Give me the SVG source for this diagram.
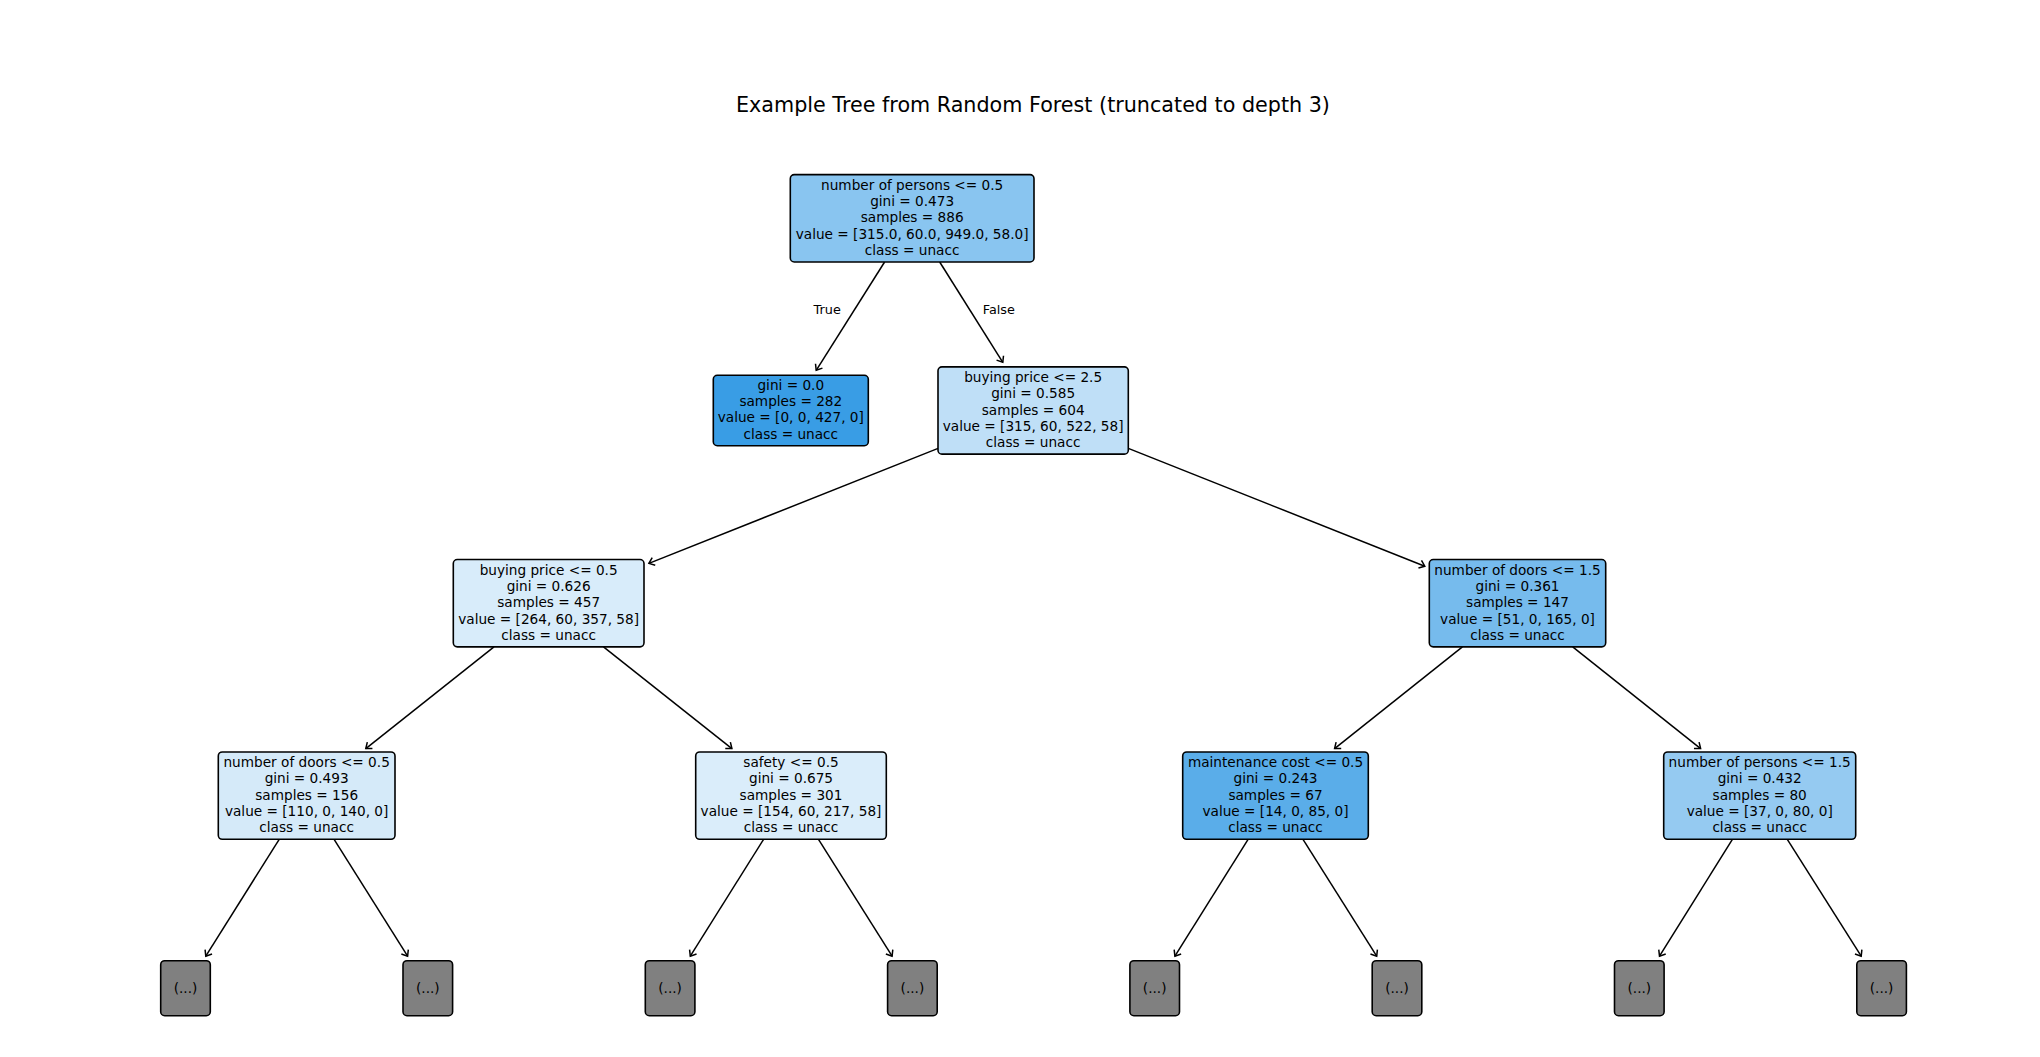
<svg xmlns="http://www.w3.org/2000/svg" width="2040" height="1057" viewBox="0 0 2040 1057">
<style>
text{font-family:"DejaVu Sans","Liberation Sans",sans-serif;fill:#000}
.t{font-size:13.65px;text-anchor:middle}
.lbl{font-size:12.8px;text-anchor:middle}
.title{font-size:20.7px;text-anchor:middle}
.box{stroke:#000;stroke-width:1.6}
.edge{stroke:#000;stroke-width:1.5;fill:none}
</style>
<defs>
<marker id="ah" viewBox="-9 -6 11 12" refX="0" refY="0" markerWidth="11" markerHeight="12" markerUnits="userSpaceOnUse" orient="auto" overflow="visible">
<path d="M-5.2,-4.1 L0,0 L-5.2,4.1" fill="none" stroke="#000" stroke-width="1.5"/>
</marker>
</defs>
<rect width="2040" height="1057" fill="#fff"/>
<text class="title" x="1033" y="112">Example Tree from Random Forest (truncated to depth 3)</text>

<g id="connectors">
<line class="edge" x1="884.6" y1="262" x2="816.2" y2="370.3" marker-end="url(#ah)"/>
<line class="edge" x1="939.7" y1="262" x2="1002.8" y2="362.3" marker-end="url(#ah)"/>
<line class="edge" x1="938.1" y1="448.4" x2="648.9" y2="563.4" marker-end="url(#ah)"/>
<line class="edge" x1="1128.3" y1="448.4" x2="1424.8" y2="566.2" marker-end="url(#ah)"/>
<line class="edge" x1="494" y1="646.8" x2="365.8" y2="748.6" marker-end="url(#ah)"/>
<line class="edge" x1="603.5" y1="646.8" x2="731.9" y2="748.6" marker-end="url(#ah)"/>
<line class="edge" x1="1462.4" y1="646.8" x2="1334.6" y2="748.6" marker-end="url(#ah)"/>
<line class="edge" x1="1572.7" y1="646.8" x2="1700.6" y2="748.6" marker-end="url(#ah)"/>
<line class="edge" x1="279.2" y1="839.3" x2="205.8" y2="956.2" marker-end="url(#ah)"/>
<line class="edge" x1="334.1" y1="839.3" x2="407.6" y2="956.2" marker-end="url(#ah)"/>
<line class="edge" x1="763.6" y1="839.3" x2="690.3" y2="956.2" marker-end="url(#ah)"/>
<line class="edge" x1="818.5" y1="839.3" x2="892.1" y2="956.2" marker-end="url(#ah)"/>
<line class="edge" x1="1248.1" y1="839.3" x2="1174.9" y2="956.2" marker-end="url(#ah)"/>
<line class="edge" x1="1303" y1="839.3" x2="1376.7" y2="956.2" marker-end="url(#ah)"/>
<line class="edge" x1="1732.4" y1="839.3" x2="1659.5" y2="956.2" marker-end="url(#ah)"/>
<line class="edge" x1="1787.3" y1="839.3" x2="1861.2" y2="956.2" marker-end="url(#ah)"/>
<text class="lbl" x="827.2" y="313.7">True</text>
<text class="lbl" x="998.8" y="313.7">False</text>
</g>

<g id="n0">
<rect class="box" x="790.3" y="174.65" width="243.7" height="87.3" rx="4" fill="#89c5f0"/>
<text class="t" x="912.15" y="189.7">number of persons &lt;= 0.5</text>
<text class="t" x="912.15" y="206">gini = 0.473</text>
<text class="t" x="912.15" y="222.3">samples = 886</text>
<text class="t" x="912.15" y="238.6">value = [315.0, 60.0, 949.0, 58.0]</text>
<text class="t" x="912.15" y="254.9">class = unacc</text>
</g>

<g id="n1">
<rect class="box" x="713.3" y="375.3" width="155" height="70.4" rx="4" fill="#399de5"/>
<text class="t" x="790.8" y="389.6">gini = 0.0</text>
<text class="t" x="790.8" y="405.9">samples = 282</text>
<text class="t" x="790.8" y="422.2">value = [0, 0, 427, 0]</text>
<text class="t" x="790.8" y="438.5">class = unacc</text>
</g>

<g id="n2">
<rect class="box" x="938" y="366.85" width="190.3" height="87.3" rx="4" fill="#bfdff7"/>
<text class="t" x="1033.15" y="381.9">buying price &lt;= 2.5</text>
<text class="t" x="1033.15" y="398.2">gini = 0.585</text>
<text class="t" x="1033.15" y="414.5">samples = 604</text>
<text class="t" x="1033.15" y="430.8">value = [315, 60, 522, 58]</text>
<text class="t" x="1033.15" y="447.1">class = unacc</text>
</g>

<g id="n3">
<rect class="box" x="453.3" y="559.55" width="190.7" height="87.3" rx="4" fill="#d8ecfa"/>
<text class="t" x="548.65" y="574.6">buying price &lt;= 0.5</text>
<text class="t" x="548.65" y="590.9">gini = 0.626</text>
<text class="t" x="548.65" y="607.2">samples = 457</text>
<text class="t" x="548.65" y="623.5">value = [264, 60, 357, 58]</text>
<text class="t" x="548.65" y="639.8">class = unacc</text>
</g>

<g id="n4">
<rect class="box" x="1429.3" y="559.55" width="176.4" height="87.3" rx="4" fill="#76bbed"/>
<text class="t" x="1517.5" y="574.6">number of doors &lt;= 1.5</text>
<text class="t" x="1517.5" y="590.9">gini = 0.361</text>
<text class="t" x="1517.5" y="607.2">samples = 147</text>
<text class="t" x="1517.5" y="623.5">value = [51, 0, 165, 0]</text>
<text class="t" x="1517.5" y="639.8">class = unacc</text>
</g>

<g id="n5">
<rect class="box" x="218.3" y="751.95" width="176.7" height="87.3" rx="4" fill="#d5eaf9"/>
<text class="t" x="306.65" y="767">number of doors &lt;= 0.5</text>
<text class="t" x="306.65" y="783.3">gini = 0.493</text>
<text class="t" x="306.65" y="799.6">samples = 156</text>
<text class="t" x="306.65" y="815.9">value = [110, 0, 140, 0]</text>
<text class="t" x="306.65" y="832.2">class = unacc</text>
</g>

<g id="n6">
<rect class="box" x="695.7" y="751.95" width="190.6" height="87.3" rx="4" fill="#daedfa"/>
<text class="t" x="791" y="767">safety &lt;= 0.5</text>
<text class="t" x="791" y="783.3">gini = 0.675</text>
<text class="t" x="791" y="799.6">samples = 301</text>
<text class="t" x="791" y="815.9">value = [154, 60, 217, 58]</text>
<text class="t" x="791" y="832.2">class = unacc</text>
</g>

<g id="n7">
<rect class="box" x="1182.7" y="751.95" width="185.6" height="87.3" rx="4" fill="#5aade9"/>
<text class="t" x="1275.5" y="767">maintenance cost &lt;= 0.5</text>
<text class="t" x="1275.5" y="783.3">gini = 0.243</text>
<text class="t" x="1275.5" y="799.6">samples = 67</text>
<text class="t" x="1275.5" y="815.9">value = [14, 0, 85, 0]</text>
<text class="t" x="1275.5" y="832.2">class = unacc</text>
</g>

<g id="n8">
<rect class="box" x="1663.7" y="751.95" width="192" height="87.3" rx="4" fill="#95caf1"/>
<text class="t" x="1759.7" y="767">number of persons &lt;= 1.5</text>
<text class="t" x="1759.7" y="783.3">gini = 0.432</text>
<text class="t" x="1759.7" y="799.6">samples = 80</text>
<text class="t" x="1759.7" y="815.9">value = [37, 0, 80, 0]</text>
<text class="t" x="1759.7" y="832.2">class = unacc</text>
</g>

<g id="leaf0"><rect class="box" x="160.7" y="960.7" width="49.6" height="55" rx="4" fill="#808080"/><text class="t" x="185.5" y="992.5">(...)</text></g>
<g id="leaf1"><rect class="box" x="403" y="960.7" width="49.6" height="55" rx="4" fill="#808080"/><text class="t" x="427.8" y="992.5">(...)</text></g>
<g id="leaf2"><rect class="box" x="645.3" y="960.7" width="49.6" height="55" rx="4" fill="#808080"/><text class="t" x="670.1" y="992.5">(...)</text></g>
<g id="leaf3"><rect class="box" x="887.6" y="960.7" width="49.6" height="55" rx="4" fill="#808080"/><text class="t" x="912.4" y="992.5">(...)</text></g>
<g id="leaf4"><rect class="box" x="1129.9" y="960.7" width="49.6" height="55" rx="4" fill="#808080"/><text class="t" x="1154.7" y="992.5">(...)</text></g>
<g id="leaf5"><rect class="box" x="1372.2" y="960.7" width="49.6" height="55" rx="4" fill="#808080"/><text class="t" x="1397" y="992.5">(...)</text></g>
<g id="leaf6"><rect class="box" x="1614.5" y="960.7" width="49.6" height="55" rx="4" fill="#808080"/><text class="t" x="1639.3" y="992.5">(...)</text></g>
<g id="leaf7"><rect class="box" x="1856.8" y="960.7" width="49.6" height="55" rx="4" fill="#808080"/><text class="t" x="1881.6" y="992.5">(...)</text></g>
</svg>
